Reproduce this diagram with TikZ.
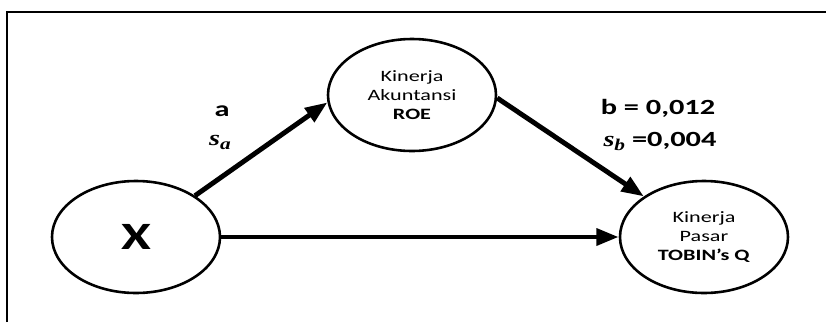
\documentclass[tikz,border=0pt]{standalone}
\usepackage{fontspec}
\setmainfont{Carlito}[FakeStretch=1.4]
\newfontfamily\coeffont{Liberation Serif}[FakeStretch=1.3]
\usetikzlibrary{shapes.geometric, arrows.meta}

% bold italic symbol with a lowered index, for the path coefficients
\newcommand{\coefsym}[2]{{\coeffont\bfseries\itshape #1\raisebox{-0.4ex}{\fontsize{14}{14}\selectfont #2}}}

\begin{document}
\begin{tikzpicture}[
    x=0.03cm, y=-0.03cm,
    var node/.style={
        ellipse,
        draw=black,
        line width=2.2pt,
        inner sep=0pt,
        minimum width=5.04cm,
        minimum height=3.36cm,
        align=center,
        font=\fontsize{13.5}{16}\selectfont
    },
    path arrow/.style={
        -{Triangle[length=19pt, width=14pt]},
        line width=4.2pt
    },
    coef label/.style={
        font=\fontsize{18.5}{22}\selectfont\bfseries
    }
]

    \useasboundingbox (0,0) rectangle (826,322);

    % --- frame ---
    \draw[line width=1.6pt] (7,322) -- (7,12) -- (826,12);

    \node[var node, font=\fontsize{33}{36}\selectfont\bfseries] (x) at (136,237) {X};
    \node[var node] (roe) at (412,95) {Kinerja\\Akuntansi\\\textbf{ROE}};
    \node[var node] (tobin) at (704,237) {Kinerja\\Pasar\\\textbf{TOBIN’s Q}};

    % --- paths ---
    \draw[path arrow] (x.35) -- (roe.185);
    \draw[path arrow] (roe.-2) -- (tobin.146);
    \draw[path arrow] (x.east) -- (tobin.west);

    \node[coef label] (alabel) at (222,111) {a};
    \node[coef label] (salabel) at (220,142) {\coefsym{s}{a}};
    \node[coef label] (blabel) at (658,108) {b = 0,012};
    \node[coef label] (sblabel) at (660,141) {\coefsym{s}{b} =0,004};

\end{tikzpicture}
\end{document}
